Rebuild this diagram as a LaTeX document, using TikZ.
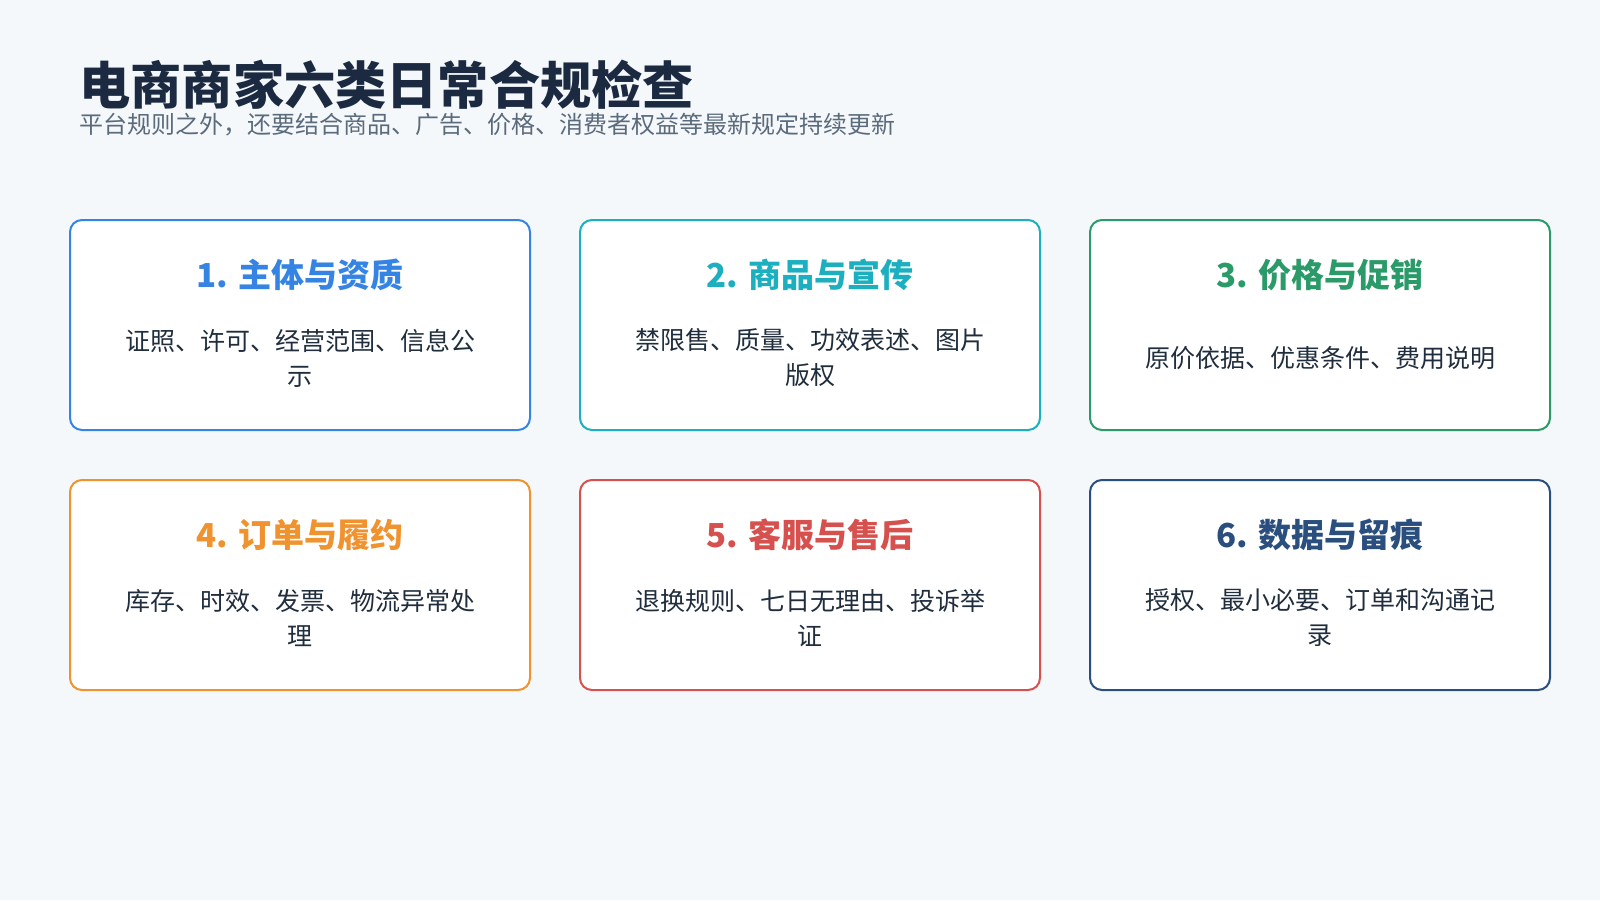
\documentclass[tikz,border=0pt]{standalone}
\usepackage{fontspec}
\setmainfont{Noto Sans CJK SC}
\definecolor{bgpage}{HTML}{F5F8FB}
\definecolor{titletext}{HTML}{1B2A41}
\definecolor{subtext}{HTML}{5B6B7C}
\definecolor{bodytext}{HTML}{1F2D3D}
\definecolor{cblue}{HTML}{3584E4}
\definecolor{cteal}{HTML}{1CAFBF}
\definecolor{cgreen}{HTML}{2A9A68}
\definecolor{corange}{HTML}{F0922E}
\definecolor{cred}{HTML}{D6504E}
\definecolor{cnavy}{HTML}{2A4F7E}
\begin{document}
\begin{tikzpicture}[x=0.5pt, y=-0.5pt,
  cardbox/.style={draw=#1, fill=white, line width=1pt, rounded corners=6pt,
    minimum width=230pt, minimum height=105pt, inner sep=0pt},
  cardhead/.style={text=#1, font=\fontsize{16.5}{20}\selectfont\bfseries, inner sep=0pt},
  cardbody/.style={text=bodytext, font=\fontsize{12.5}{17.5}\selectfont, align=center, inner sep=0pt}]
  % page
  \fill[bgpage] (0,0) rectangle (1600,900);
  \node[anchor=west, inner sep=0pt, text=titletext,
    font=\fontsize{25.6}{30}\selectfont\bfseries] (title) at (79,85) {电商商家六类日常合规检查};
  \node[anchor=west, inner sep=0pt, text=subtext,
    font=\fontsize{12}{14}\selectfont] (subtitle) at (79,125)
    {平台规则之外，还要结合商品、广告、价格、消费者权益等最新规定持续更新};
  % six cards
  \foreach \n/\cx/\cy/\col/\hd/\bd in {
    1/300/325/cblue/{1. 主体与资质}/{证照、许可、经营范围、信息公\\示},
    2/810/325/cteal/{2. 商品与宣传}/{禁限售、质量、功效表述、图片\\版权},
    3/1320/325/cgreen/{3. 价格与促销}/{原价依据、优惠条件、费用说明},
    4/300/585/corange/{4. 订单与履约}/{库存、时效、发票、物流异常处\\理},
    5/810/585/cred/{5. 客服与售后}/{退换规则、七日无理由、投诉举\\证},
    6/1320/585/cnavy/{6. 数据与留痕}/{授权、最小必要、订单和沟通记\\录}}
  {
    \node[cardbox=\col] (card\n) at (\cx,\cy) {};
    \node[cardhead=\col] (head\n) at ([yshift=25pt]card\n.center) {\hd};
    \node[cardbody] (body\n) at ([yshift=-16.5pt]card\n.center) {\bd};
  }
\end{tikzpicture}
\end{document}
